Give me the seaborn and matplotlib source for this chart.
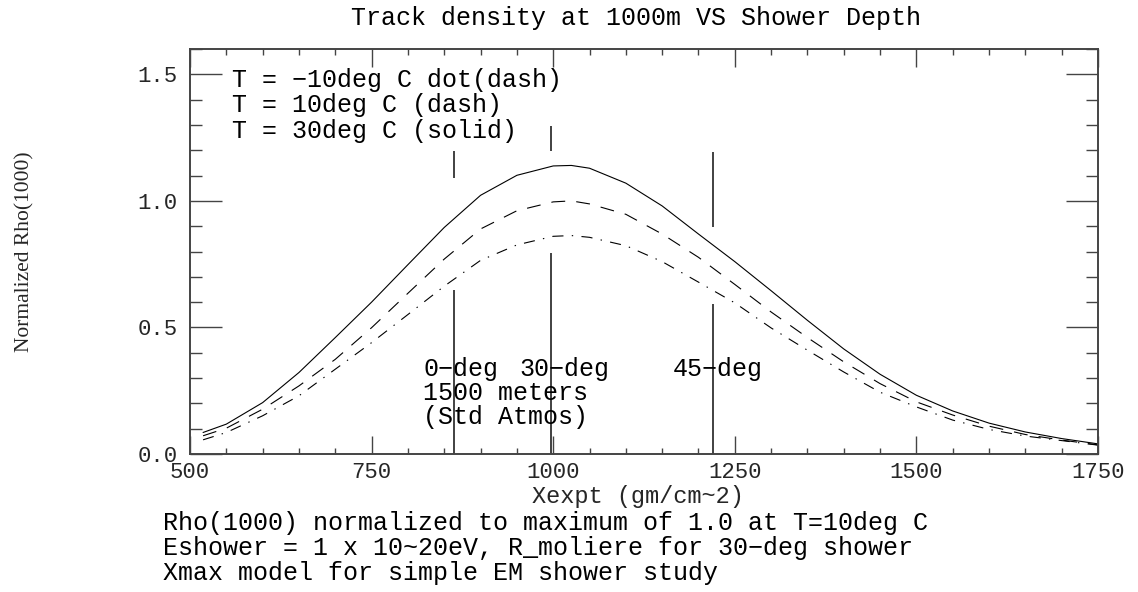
import matplotlib
matplotlib.use("Agg")
import numpy as np
import pandas as pd
import seaborn as sns
import matplotlib.pyplot as plt
from matplotlib.ticker import MultipleLocator, FormatStrFormatter

# ---------------- data ----------------
xexpt = [518, 550, 600, 650, 700, 750, 800, 850, 900, 950, 1000, 1025, 1050,
         1100, 1150, 1200, 1250, 1300, 1350, 1400, 1450, 1500, 1550, 1600,
         1650, 1700, 1750]
rho_30deg = [0.085, 0.118, 0.203, 0.322, 0.460, 0.600, 0.748, 0.895, 1.022,
             1.101, 1.138, 1.140, 1.129, 1.070, 0.980, 0.869, 0.760, 0.645,
             0.528, 0.415, 0.315, 0.232, 0.170, 0.122, 0.087, 0.061, 0.040]
rho_10deg = [0.072, 0.102, 0.177, 0.269, 0.374, 0.499, 0.635, 0.770, 0.889,
             0.961, 0.996, 1.000, 0.988, 0.947, 0.869, 0.777, 0.670, 0.561,
             0.460, 0.364, 0.278, 0.206, 0.154, 0.110, 0.077, 0.055, 0.036]
rho_m10deg = [0.056, 0.085, 0.151, 0.230, 0.335, 0.440, 0.551, 0.663, 0.765,
              0.826, 0.860, 0.863, 0.856, 0.823, 0.760, 0.679, 0.597, 0.498,
              0.410, 0.324, 0.244, 0.186, 0.134, 0.097, 0.071, 0.053, 0.035]

series_names = ["solid", "dash", "dotdash"]

# zenith-angle marker segments (x, low, high)
seg_x = [863, 863, 997, 997, 1220, 1220]
seg_lo = [0.0, 1.092, 0.0, 1.197, 0.0, 0.895]
seg_hi = [0.646, 1.197, 0.794, 1.296, 0.594, 1.195]

legend_lines = ["T = \u221210deg C dot(dash)",
                "T = 10deg C (dash)",
                "T = 30deg C (solid)"]
legend_y = [1.45, 1.35, 1.25]

angle_labels = ["0\u2212deg", "30\u2212deg", "45\u2212deg"]
angle_label_x = [821, 954, 1164]
site_lines = ["1500 meters", "(Std Atmos)"]

x_major_ticks = [500, 750, 1000, 1250, 1500, 1750]
y_major_ticks = [0.0, 0.5, 1.0, 1.5]

title = "Track density at 1000m VS Shower Depth"
xlabel = "Xexpt (gm/cm~2)"
ylabel = "Normalized Rho(1000)"
notes = ["Rho(1000) normalized to maximum of 1.0 at T=10deg C",
         "Eshower = 1 x 10~20eV, R_moliere for 30\u2212deg shower",
         "Xmax model for simple EM shower study"]

# ---------------- style ----------------
sns.set_theme(style="ticks")
plt.rcParams["font.family"] = ["Liberation Mono", "DejaVu Sans Mono"]
plt.rcParams["lines.scale_dashes"] = False
plt.rcParams["text.color"] = "black"

FS = 18
FS_TICK = 16
W, H = 1138, 592
fig = plt.figure(figsize=(W / 100, H / 100), dpi=100)
ax = fig.add_axes([190 / W, 1 - 454 / H, 908 / W, 405 / H])

df = pd.DataFrame({
    "xexpt": xexpt * 3,
    "rho": rho_30deg + rho_10deg + rho_m10deg,
    "series": [series_names[0]] * len(xexpt) + [series_names[1]] * len(xexpt)
              + [series_names[2]] * len(xexpt),
})

sns.lineplot(data=df, x="xexpt", y="rho", style="series",
             dashes={"solid": "", "dash": (10, 8), "dotdash": (8, 6, 1, 6)},
             color="black", linewidth=0.8, estimator=None, legend=False, ax=ax)

ax.vlines(seg_x, seg_lo, seg_hi, colors="#333333", linewidth=1.3)

ax.set_xlim(500, 1750)
ax.set_ylim(0, 1.6)
ax.set_xticks(x_major_ticks)
ax.set_yticks(y_major_ticks)
ax.xaxis.set_minor_locator(MultipleLocator(50))
ax.yaxis.set_minor_locator(MultipleLocator(0.1))
ax.yaxis.set_major_formatter(FormatStrFormatter("%.1f"))

spine_col = "#444444"
for s in ax.spines.values():
    s.set_visible(True)
    s.set_color(spine_col)
    s.set_linewidth(1.4)

ax.tick_params(axis="y", which="major", direction="in", length=23, width=1,
               color=spine_col, left=True, right=True, labelsize=FS_TICK, pad=9)
ax.tick_params(axis="y", which="minor", direction="in", length=8.6, width=1,
               color=spine_col, left=True, right=True)
ax.tick_params(axis="x", which="major", direction="in", length=13, width=1,
               color=spine_col, bottom=True, top=True, labelsize=FS_TICK, pad=6)
ax.tick_params(axis="x", which="minor", direction="in", length=4.3, width=1,
               color=spine_col, bottom=True, top=True)
for lab in ax.get_yticklabels():
    lab.set_verticalalignment("center_baseline")

ax.set_xlabel(xlabel, fontsize=17)
ax.xaxis.set_label_coords(0.5 - 6 / 908, -(503 - 454) / 405)
ax.xaxis.label.set_va("baseline")

ax.set_ylabel(ylabel, fontsize=15.5, family=["Liberation Serif", "DejaVu Serif"])
ax.yaxis.set_label_coords((25 - 190) / 908, 0.5)
ax.yaxis.label.set_va("center")

for txt, yy in zip(legend_lines, legend_y):
    ax.text(558, yy, txt, fontsize=FS, va="baseline", ha="left")

for txt, xx in zip(angle_labels, angle_label_x):
    ax.text(xx, 0.31, txt, fontsize=FS, va="baseline", ha="left")
for txt, yy in zip(site_lines, [0.215, 0.12]):
    ax.text(angle_label_x[0], yy, txt, fontsize=FS, va="baseline", ha="left")

fig.text(636 / W, 1 - 25 / H, title, fontsize=FS, ha="center", va="baseline")
for txt, yy in zip(notes, [530, 555, 580]):
    fig.text(163 / W, 1 - yy / H, txt, fontsize=FS, ha="left", va="baseline")

fig.savefig("out.png", dpi=100, facecolor="white")
